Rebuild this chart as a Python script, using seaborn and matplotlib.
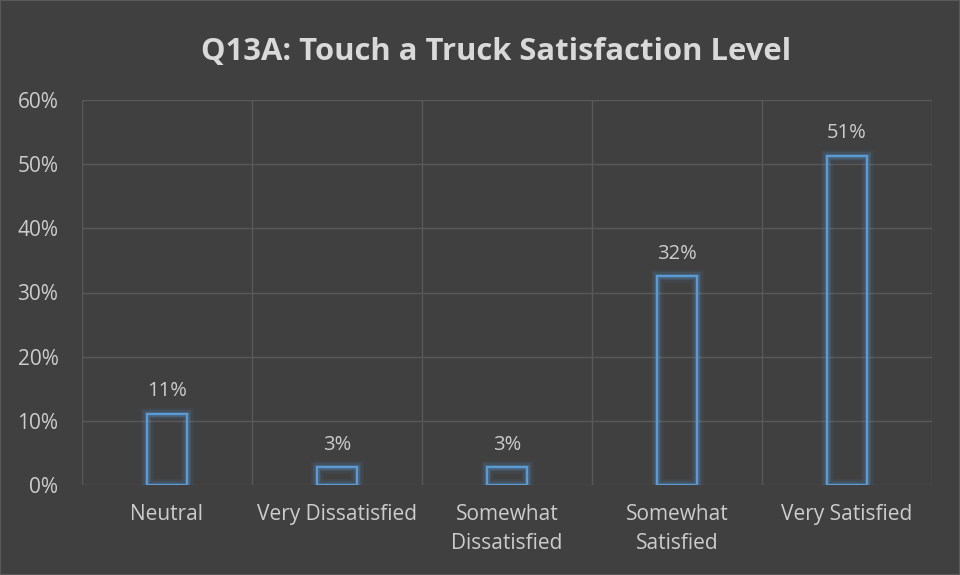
import matplotlib
matplotlib.use("Agg")
import matplotlib.pyplot as plt
import matplotlib.patheffects as pe
import seaborn as sns
import pandas as pd
from matplotlib.ticker import FuncFormatter, MultipleLocator

categories = ["Neutral", "Very Dissatisfied", "Somewhat\nDissatisfied", "Somewhat\nSatisfied", "Very Satisfied"]
values = [11.1, 2.8, 2.8, 32.5, 51.3]
labels = ["11%", "3%", "3%", "32%", "51%"]
title = "Q13A: Touch a Truck Satisfaction Level"

BG = "#404040"
TXT = "#D9D9D9"
TICK = "#CCCCCC"
GRID = "#595959"
EDGE = "#5B9BD5"

sns.set_theme(style="dark")
plt.rcParams["font.family"] = ["Open Sans", "DejaVu Sans"]

df = pd.DataFrame({"cat": categories, "val": values})
fig = plt.figure(figsize=(9.6, 5.75), dpi=100, facecolor=BG)
ax = fig.add_axes([82/960, 1-485/575, (932-82)/960, (485-100)/575])
ax.set_facecolor(BG)

sns.barplot(data=df, x="cat", y="val", ax=ax, fill=False, width=0.235,
            edgecolor=EDGE, linewidth=1.6, errorbar=None)
glow = [pe.Stroke(linewidth=9, foreground=EDGE, alpha=0.07),
        pe.Stroke(linewidth=6, foreground=EDGE, alpha=0.13),
        pe.Stroke(linewidth=3.5, foreground=EDGE, alpha=0.25),
        pe.Normal()]
for p in ax.patches:
    p.set_path_effects(glow)

for i, (v, l) in enumerate(zip(values, labels)):
    ax.annotate(l, (i, v), xytext=(0, 9), textcoords="offset points",
                ha="center", va="bottom", color=TICK, fontsize=14.5)

ax.set_ylim(0, 60)
ax.set_xlim(-0.5, 4.5)
ax.yaxis.set_major_locator(MultipleLocator(10))
ax.yaxis.set_major_formatter(FuncFormatter(lambda v, _: f"{v:.0f}%"))
ax.set_xticks(range(5))
ax.set_xticks([i + 0.5 for i in range(-1, 5)], minor=True)
ax.grid(axis="y", which="major", color=GRID, linewidth=1)
ax.grid(axis="x", which="minor", color=GRID, linewidth=1)
ax.grid(axis="x", which="major", visible=False)
ax.set_axisbelow(True)
for s in ax.spines.values():
    s.set_visible(False)
ax.tick_params(axis="both", which="both", length=0, colors=TICK, labelsize=15)
ax.tick_params(axis="y", pad=17)
ax.tick_params(axis="x", pad=14)
for t in ax.get_xticklabels():
    t.set_linespacing(1.45)
ax.set_xlabel("")
ax.set_ylabel("")

fig.text(496/960, 1 - 52/575, title, ha="center", va="center", color=TXT,
         fontsize=22.3, fontweight="bold")

fig.patches.append(plt.Rectangle((0, 0), 1, 1, transform=fig.transFigure,
                                 fill=False, edgecolor="#595959", linewidth=1.5))
fig.savefig("out.png", dpi=100, facecolor=BG)
